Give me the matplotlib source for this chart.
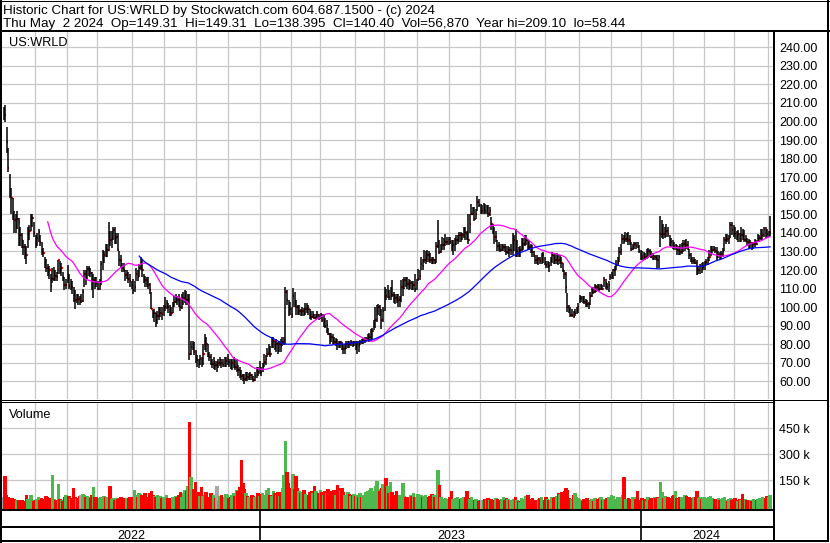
import numpy as np
import pandas as pd
import matplotlib
matplotlib.use('Agg')
import matplotlib.pyplot as plt

W, H = 830, 543
plt.rcParams['font.family'] = ['Liberation Sans', 'DejaVu Sans']

# daily bars, May 2 2022 .. May 2 2024
closes = [
    206, 203.4, 188.8, 175, 160, 158.8, 150, 146.8, 143, 147.7,
    146, 138.7, 136, 132.4, 129.2, 128, 139.6, 141, 147.7, 148,
    140, 133.3, 137, 140.5, 135, 130.6, 129, 125.2, 121, 120.7,
    119.8, 111.2, 115.3, 118, 117, 116, 125.2, 119.8, 121, 116,
    111.8, 112, 116.3, 111.2, 112, 110.9, 106.4, 104, 106, 104.6,
    103.3, 103.3, 108, 118, 116, 120.7, 121.2, 118.4, 114, 114.5,
    113.6, 113, 110, 112, 123.4, 125, 128, 127.4, 131, 140,
    136, 137, 141.4, 136.9, 138, 131, 125.2, 125, 121, 120,
    117.2, 118, 115, 114, 112, 109, 111, 118, 116, 121,
    124, 120, 116.3, 114.5, 113, 111.8, 109, 99.2, 96.5, 97,
    93, 95, 96.5, 97, 96.5, 99, 100.1, 102, 100, 98.3,
    97, 101, 102.8, 105.5, 104, 103.7, 100, 102, 105, 106,
    104, 105, 75, 78.5, 80, 76, 72, 71.4, 70, 72,
    70, 75, 82, 80, 75, 73, 70.5, 69.6, 71, 68.7,
    68.7, 70, 71.4, 70, 69, 70, 71, 72.2, 70.5, 68.7,
    70, 70.5, 67.8, 69, 66, 64.2, 63, 62, 61.5, 63,
    62.4, 63, 63.5, 62, 60.6, 63, 66, 65, 66, 65.1,
    68, 70.5, 72, 75, 77, 75, 80.3, 82, 79.4, 80,
    78, 80, 79, 81.2, 82, 108.2, 103.7, 100, 99.2, 95.6,
    105.8, 103, 100.1, 97, 98, 97.4, 98, 97, 99, 100.1,
    99, 96, 94.7, 95, 94, 95, 96, 94.7, 95, 92.9,
    93, 90, 90.2, 85.7, 84, 83.9, 83, 81.2, 82, 80.3,
    80, 81, 79, 77.6, 78, 80, 81, 80.3, 81, 80,
    81, 79, 80.3, 79, 81.2, 81, 82, 82.5, 83, 83.9,
    84, 85.7, 87, 91, 92.9, 98, 100.1, 98.3, 92.9, 98,
    109.1, 106, 108, 105.5, 107, 106.4, 105.5, 105, 104, 103.7,
    104, 110.9, 112, 114.5, 114, 112.7, 112, 113, 110.9, 112,
    110, 113, 115.3, 117, 123.4, 122, 125.2, 126, 128, 127.4,
    125.2, 124, 125.2, 124, 133, 135.1, 129.7, 131, 133.3, 134,
    135, 135.1, 136, 135, 133, 133.3, 134, 136, 137, 138.7,
    138, 138.7, 141.4, 140, 137.8, 136, 145, 150.4, 152, 147.7,
    150, 156.7, 155, 152, 152, 153, 152, 153, 150.4, 152,
    145, 140.5, 137.8, 138, 133, 132.4, 130.6, 132, 132.4, 130,
    129.7, 131, 130.6, 131, 134, 136, 128, 130, 129.7, 131,
    134, 134.2, 135.1, 136, 133.3, 132.4, 131, 129.7, 128, 125.2,
    125, 126, 125, 126, 128, 124, 122.5, 123, 122, 125,
    128, 126, 125.2, 127, 125.2, 126, 124, 120.2, 118, 110.9,
    100, 98.3, 95.6, 96, 95, 97, 98.3, 100, 104.6, 105,
    104.6, 103, 102, 101.9, 101.5, 106, 109.1, 108, 110.9, 111,
    110.9, 110, 111.8, 110, 114.5, 113, 110.9, 112, 116.3, 117,
    119.8, 120, 122.5, 124, 129.7, 131, 136.9, 136, 136.5, 137.5,
    136, 135.5, 131.5, 133, 134.2, 133, 132.4, 130, 128, 127,
    128, 127.2, 129.7, 130, 128, 127, 126.7, 127, 126.5, 125.2,
    127, 139.6, 141, 139.6, 140, 141, 139.6, 136, 135.1, 134,
    132.4, 133, 130.6, 131, 129.7, 132, 134, 134.2, 133.3, 132,
    128, 126.1, 125, 125.2, 124, 118, 120, 122, 121, 121.6,
    123, 124.3, 124.8, 127, 130.6, 131, 131.5, 130, 128, 128.3,
    127.8, 128.5, 130, 136, 137.8, 136.9, 137.5, 144.1, 141.4, 140,
    139.6, 138, 139.6, 138, 139, 138.5, 136, 136.5, 135.1, 134,
    134.3, 132.4, 134, 135, 134.2, 136.9, 137.2, 138.7, 138.9, 142.3,
    141, 139.6, 140, 140.4,
]

highs = [
    208, 209.1, 197, 186, 171.6, 164, 159, 152, 150, 152,
    148, 143, 140, 136, 134, 133, 143, 144, 150, 150.4,
    146, 139, 140, 142, 139, 135, 132, 127, 126, 123,
    122, 118, 121, 121.5, 120, 119, 125.5, 125, 124, 119,
    116, 115, 122.5, 118, 115, 114, 111, 109, 107, 107,
    106, 107, 110, 120, 120, 122, 122, 121, 119, 118,
    116, 116, 114, 115, 125, 131, 130, 134, 134, 145.9,
    141, 141, 143, 143, 140, 140, 130, 128, 124, 124,
    120, 120, 119, 118, 114, 115, 114, 121, 120, 123,
    127, 126, 118, 117, 116, 116, 113, 108, 98.5, 99,
    97, 98, 100, 100, 100, 101, 105.5, 104, 102, 101,
    100, 103, 106, 107, 106, 107, 105, 107, 108, 109,
    108.6, 107, 107, 82, 82, 81, 77, 74, 72, 74,
    73, 80, 85.7, 84, 80, 76, 75, 72, 73, 71,
    71, 72, 73, 72, 72, 73, 73, 75, 72, 72,
    72, 73, 72, 72, 69, 68, 66, 64, 64, 65,
    65, 64.5, 65, 64, 63, 65, 67.5, 68, 71, 68,
    70, 74.7, 74, 78, 80, 79, 84, 84, 82, 83,
    81, 82, 83, 84, 84, 111, 109, 104, 103, 100,
    110.5, 108, 104, 101, 101, 99, 100, 99.5, 102, 102,
    101, 99, 98, 98, 96.5, 96.5, 98, 96.5, 97, 96.5,
    96.5, 94, 93, 89, 86, 86, 85.7, 84, 83.5, 83,
    82, 82, 81, 80, 80, 82, 82, 82, 82.5, 82,
    82, 82, 82, 82, 82.5, 83, 83.5, 84, 84, 85.7,
    86, 88, 89, 93, 100, 101, 101.9, 101, 99, 100,
    110.9, 110, 112, 109, 111, 114.5, 108, 107, 107, 107,
    106, 114.5, 115, 116.3, 116, 116, 115, 114.5, 114, 114,
    118, 115, 120.7, 120, 127, 126, 130.6, 130, 130.6, 130,
    129, 127, 127, 126, 135, 147.1, 136, 134, 137.8, 137,
    139.6, 138, 138, 137.8, 136, 136, 137, 138.7, 139, 140.5,
    140.5, 140, 143.2, 143, 141, 150, 150.4, 155.8, 154, 154,
    153, 160, 158, 155.8, 155, 156, 155.8, 155, 154.9, 154,
    148.6, 145, 143, 141, 136, 135, 134, 134, 134, 134,
    133, 133, 132.4, 134, 140, 139, 142.3, 136, 132.4, 133,
    137, 137, 138.7, 138.7, 136, 136, 134, 133.3, 130, 128,
    128, 127, 127, 129, 129.7, 127, 125, 125, 124.3, 127,
    129.7, 128, 128.8, 129, 128, 128, 127, 124, 120, 119,
    107.4, 101, 100, 99, 98, 99, 100, 102, 106.4, 106,
    106, 106, 104.6, 104, 103, 108, 110.9, 111, 112.7, 112,
    112.7, 112.7, 112.7, 112, 116.3, 115, 113, 114, 118, 119,
    120.7, 122, 125.2, 127, 132.4, 134, 139.6, 138.7, 140.5, 140,
    140.5, 139, 135, 134, 135.1, 135, 135, 133.3, 130.6, 130,
    129.7, 129, 131.5, 132, 131.5, 130, 129, 128, 128, 127.9,
    128, 148.9, 147, 145, 143, 145, 143, 139, 137, 136,
    135, 134, 133.3, 133, 134, 134.5, 136, 136, 136.6, 135.5,
    131.5, 129, 127, 127, 126, 125.2, 122, 123.4, 124, 124.3,
    125, 126, 127, 130.6, 133, 133, 133, 132.5, 132.4, 130,
    129.7, 130, 132, 137.8, 139.6, 139.6, 139, 145.9, 146, 144,
    143.2, 141, 141.4, 140, 143.2, 142, 141.4, 139, 137, 136.9,
    136, 135, 135.1, 136.9, 136, 139.6, 139, 142.3, 142, 143.2,
    143, 142, 141, 149.31,
]

lows = [
    201, 199.6, 183, 173, 159, 150, 147, 140, 140, 142,
    133, 133, 132, 128, 126, 123.5, 132, 136, 141, 143,
    138, 132, 133, 135, 133, 128, 127, 121, 119, 117,
    115, 108, 113, 114, 114, 114, 118, 118, 117, 114,
    109, 110, 113, 110, 109, 107, 103, 99.2, 102, 101,
    101, 102, 103, 111, 112, 115, 117, 116, 109, 105,
    110, 111, 109, 109, 112, 120, 124, 127, 127, 130,
    133, 132, 136, 134, 134, 130, 122, 121, 119, 119,
    114, 115, 113, 111, 110, 107, 108, 114, 114, 116,
    120, 116, 113, 111, 111, 110, 107, 99, 94, 92,
    89.3, 91, 93, 94.5, 93, 95, 98, 99, 97, 95,
    95, 97, 100, 102, 101, 100, 98, 99, 101, 102,
    101, 101, 71.4, 74, 77, 74, 70, 68, 67, 69,
    68, 69, 77, 76, 73, 71, 69, 67, 66.7, 66,
    65.1, 67, 68.5, 67, 68, 67.5, 68, 69, 68, 66.5,
    66, 67, 66, 65, 63, 62, 60.6, 60, 58.44, 60,
    60, 61, 61, 60.5, 59.5, 60, 62, 63, 64, 63,
    65, 68, 69, 73, 74, 73, 78, 78, 77, 76,
    75, 76, 75.6, 79, 79.5, 80, 101, 95, 96, 94,
    100, 100, 96, 95.6, 96, 95, 95, 95, 96, 97,
    96, 93.5, 93, 94, 93.5, 93.5, 94, 93, 93.5, 92,
    89.3, 89, 86, 85, 80.3, 81, 80.3, 80, 79, 77,
    78, 78, 77, 75, 75, 77.6, 78, 78, 79, 78.5,
    79, 77, 75, 76, 79.5, 80, 80, 80.5, 81, 82,
    81, 82, 83, 87.5, 89, 92, 96, 95, 88.4, 92,
    98, 104, 105, 104, 104, 105.5, 102, 101.9, 102, 100.1,
    100, 103, 106, 110, 111, 110, 109, 110, 109, 109,
    108, 109, 114, 114.5, 120, 120, 124, 123.4, 124.5, 124.5,
    124, 123.5, 123.4, 123.5, 124, 132, 128.8, 129, 130.6, 131,
    133, 133.3, 133.5, 134, 130, 128, 130, 133.3, 134, 135,
    135.1, 136, 137, 136, 136, 134.2, 140, 149.5, 149.5, 146.5,
    147.7, 152, 154, 150.4, 150, 150.4, 150.4, 150, 148.6, 149,
    141.4, 139.6, 134.2, 135, 130, 130, 129.7, 130, 130, 129.7,
    128, 128.5, 127, 128, 128, 130, 127, 127, 127, 127,
    130, 130.6, 133, 133.3, 131, 130.6, 129, 127, 127, 123.4,
    123.4, 122.5, 123, 123.4, 124, 122.5, 121, 121, 119, 122,
    124, 123.4, 123.4, 123.4, 122.5, 123, 121, 119, 115, 107.4,
    97.4, 97, 94.7, 94.7, 94, 95, 96.5, 97, 102, 103,
    102, 101.9, 100, 100, 99.2, 101, 105.5, 107, 107.4, 108,
    109.1, 108.5, 109.1, 109, 111, 110, 109.1, 108, 114.5, 115,
    115.3, 117, 119.8, 122, 124.3, 128, 134.2, 134.2, 135.1, 135,
    133.3, 133.3, 130.5, 131, 131.5, 131.5, 132, 129, 125.2, 125.2,
    125.2, 125.2, 126, 126.5, 127, 126.5, 125.5, 125.2, 125.2, 120.7,
    121, 132.4, 137, 136.9, 137, 138, 137.8, 133, 132.5, 131.5,
    130.6, 130.6, 128, 128, 128, 128.5, 129.7, 130, 131.5, 131,
    126.1, 124.3, 123.4, 123.4, 123, 117.2, 118, 118, 118.5, 120,
    120, 122.5, 122.5, 125, 127.5, 129, 130.5, 129, 125.2, 126.5,
    125.2, 126, 127, 130, 134, 135.1, 134, 137, 139, 138,
    136.9, 136, 135, 135.1, 135.1, 136, 135.1, 135.1, 133, 131.5,
    132, 130.6, 131.5, 132.5, 133.3, 135, 135.1, 136, 136, 137.8,
    137, 137, 138, 138.395,
]

# volume in thousands of shares
volumes = [
    48, 171, 60, 45, 40, 38, 42, 35, 30, 32,
    28, 25, 30, 22, 20, 58, 35, 30, 58, 28,
    25, 30, 35, 45, 30, 40, 25, 35, 55, 45,
    40, 40, 172, 35, 30, 28, 120, 35, 30, 25,
    45, 60, 30, 55, 35, 40, 102, 50, 38, 40,
    55, 60, 65, 60, 50, 55, 45, 40, 60, 105,
    50, 45, 40, 42, 48, 40, 55, 45, 45, 40,
    110, 38, 40, 30, 42, 35, 40, 45, 38, 40,
    35, 40, 42, 50, 45, 40, 90, 60, 50, 70,
    65, 60, 55, 72, 45, 50, 70, 80, 60, 55,
    50, 62, 45, 55, 40, 50, 45, 60, 40, 42,
    38, 45, 50, 55, 45, 60, 75, 50, 70, 88,
    80, 110, 482, 163, 70, 95, 134, 65, 75, 55,
    103, 55, 60, 75, 45, 50, 70, 55, 60, 40,
    113, 25, 55, 60, 45, 50, 65, 58, 40, 45,
    60, 70, 55, 90, 85, 105, 263, 130, 95, 70,
    55, 45, 40, 60, 55, 45, 50, 70, 55, 65,
    70, 60, 55, 90, 100, 60, 55, 80, 70, 60,
    78, 55, 75, 100, 174, 373, 190, 130, 90, 100,
    178, 95, 170, 100, 85, 70, 75, 90, 65, 55,
    60, 75, 80, 70, 113, 85, 60, 70, 90, 75,
    60, 85, 70, 95, 80, 75, 85, 90, 60, 115,
    100, 80, 100, 75, 60, 50, 75, 65, 55, 60,
    65, 55, 60, 45, 70, 50, 60, 55, 75, 85,
    90, 100, 70, 85, 110, 138, 95, 80, 100, 120,
    90, 160, 110, 70, 132, 75, 60, 55, 85, 50,
    60, 45, 128, 55, 50, 40, 45, 60, 55, 70,
    50, 45, 65, 40, 60, 45, 55, 60, 40, 45,
    55, 65, 60, 50, 60, 204, 117, 45, 35, 30,
    40, 35, 30, 45, 80, 35, 30, 40, 45, 30,
    35, 40, 45, 50, 85, 40, 35, 45, 30, 28,
    35, 30, 25, 28, 32, 30, 35, 28, 40, 30,
    35, 25, 30, 40, 35, 30, 28, 35, 45, 30,
    40, 35, 30, 28, 20, 35, 50, 30, 25, 20,
    40, 35, 30, 55, 62, 25, 35, 40, 30, 25,
    30, 35, 40, 50, 25, 30, 45, 35, 28, 30,
    45, 40, 50, 55, 70, 65, 75, 60, 80, 100,
    90, 40, 30, 35, 60, 70, 45, 40, 35, 30,
    25, 35, 30, 40, 28, 30, 35, 25, 40, 30,
    35, 40, 45, 30, 35, 30, 40, 45, 50, 60,
    55, 35, 30, 50, 40, 45, 60, 165, 35, 30,
    40, 35, 30, 45, 50, 35, 80, 30, 25, 40,
    30, 35, 25, 45, 30, 40, 35, 50, 40, 45,
    40, 132, 75, 40, 55, 45, 50, 40, 35, 55,
    60, 85, 40, 35, 50, 45, 40, 62, 55, 40,
    45, 35, 40, 50, 45, 85, 40, 50, 35, 45,
    50, 40, 35, 45, 55, 40, 30, 35, 25, 40,
    30, 35, 40, 45, 30, 25, 35, 40, 30, 35,
    40, 30, 25, 35, 30, 66, 25, 35, 30, 25,
    30, 25, 35, 30, 28, 35, 40, 30, 45, 35,
    40, 55, 50, 57,
]

holidays = ['2022-05-30', '2022-06-20', '2022-07-04', '2022-09-05', '2022-11-24',
            '2022-12-26', '2023-01-02', '2023-01-16', '2023-02-20', '2023-04-07',
            '2023-05-29', '2023-06-19', '2023-07-04', '2023-09-04', '2023-11-23',
            '2023-12-25', '2024-01-01', '2024-01-15', '2024-02-19', '2024-03-29']

price_ticks = list(range(60, 250, 10))
vol_ticks = [150, 300, 450]
symbol = 'US:WRLD'
header1 = 'Historic Chart for US:WRLD by Stockwatch.com 604.687.1500 - (c) 2024'
header2 = ('Thu May  2 2024  Op=149.31  Hi=149.31  Lo=138.395  Cl=140.40  '
           'Vol=56,870  Year hi=209.10  lo=58.44')

GRID = '#c8c8c8'
GREEN = '#4db84d'

dates = pd.bdate_range('2022-05-02', '2024-05-02', freq='C', holidays=holidays)
dates = dates[-len(closes):]
x = np.arange(len(closes))
xlim = (-1.0, len(closes) + 0.9)

months = dates.to_period('M')
month_starts = np.flatnonzero(months[1:] != months[:-1]) + 1
years = dates.year
year_starts = np.flatnonzero(years[1:] != years[:-1]) + 1

fig = plt.figure(figsize=(W / 100, H / 100), dpi=100)


def box(x0, y0, x1, y1):
    return fig.add_axes([x0 / W, 1 - y1 / H, (x1 - x0) / W, (y1 - y0) / H])


def bare(ax):
    ax.set_xticks([])
    ax.set_yticks([])
    for s in ax.spines.values():
        s.set_visible(False)


# price panel
ax = box(2, 31.7, 773, 399)
bare(ax)
ax.set_xlim(*xlim)
ax.set_ylim(50.5, 248.4)
for p in price_ticks:
    ax.axhline(p, color=GRID, lw=0.9, zorder=0)
    ax.text(1.0078, p, '%.2f' % p, transform=ax.get_yaxis_transform(),
            ha='left', va='center_baseline', fontsize=9, clip_on=False)
for m in month_starts:
    ax.axvline(m - 0.5, color=GRID, lw=0.9, zorder=0)
ax.hlines(closes, x, x + 0.9, color='red', lw=1.6, zorder=2)
ax.vlines(x, lows, highs, color='black', lw=1.1, zorder=3)
ma30 = pd.Series(closes).rolling(30).mean()
ma90 = pd.Series(closes).rolling(90).mean()
ax.plot(x, ma30, color='#ff00ff', lw=0.9, zorder=4)
ax.plot(x, ma90, color='#0000ff', lw=0.9, zorder=4)

# volume panel
vax = box(2, 402, 773, 509)
bare(vax)
vax.set_xlim(*xlim)
vlow = -15.6
vax.set_ylim(vlow, 601.7)
for v in vol_ticks:
    vax.axhline(v, color=GRID, lw=0.9, zorder=0)
    vax.text(1.0078, v, '%d k' % v, transform=vax.get_yaxis_transform(),
             ha='left', va='center_baseline', fontsize=9, clip_on=False)
for m in month_starts:
    vax.axvline(m - 0.5, color=GRID, lw=0.9, zorder=0)
chg = np.diff(np.array(closes), prepend=closes[0])
colors = np.where(chg > 0, GREEN, np.where(chg < 0, '#ff0000', '#a8a8a8'))
vol = np.array(volumes, dtype=float)
vax.bar(x, vol - vlow, bottom=vlow, width=1.0, color=colors, edgecolor=colors,
        linewidth=0.3, antialiased=False, zorder=2)

# date rows
dax = box(2, 509, 773, 541)
bare(dax)
dax.set_xlim(*xlim)
dax.set_ylim(0, 1)
for ys in year_starts:
    dax.axvline(ys - 0.5, color='black', lw=1.2)
for yr in sorted(set(years)):
    idx = np.flatnonzero(years == yr)
    left = max(idx[0] - 0.5, xlim[0])
    right = min(idx[-1] + 0.5, xlim[1])
    dax.text((left + right) / 2, 0.05, str(yr), ha='center', va='baseline', fontsize=9)

# frame lines, in pixel units
ov = fig.add_axes([0, 0, 1, 1], zorder=10)
ov.set_xlim(0, W)
ov.set_ylim(H, 0)
ov.axis('off')
ov.patch.set_visible(False)
k = 0.72  # points per pixel
segs = [
    ((1, 1), (0, 543), 2),
    ((0, 830), (0.5, 0.5), 1),
    ((0, 830), (30.5, 30.5), 2),
    ((827.7, 827.7), (0, 542), 2),
    ((773.7, 773.7), (30.5, 542), 2),
    ((0, 828), (399.5, 399.5), 1),
    ((0, 773), (402, 402), 1),
    ((0, 773), (509.5, 509.5), 2),
    ((0, 773), (526.5, 526.5), 2),
    ((0, 828), (541, 541), 2),
]
for xs, ys, w in segs:
    ov.plot(xs, ys, color='black', lw=w * k, solid_capstyle='butt')

fig.text(3 / W, 1 - 13.8 / H, header1, fontsize=9.6, va='baseline')
fig.text(3 / W, 1 - 26.6 / H, header2, fontsize=9.6, va='baseline')
fig.text(9 / W, 1 - 45.5 / H, symbol, fontsize=9.2, va='baseline')
fig.text(9 / W, 1 - 417.5 / H, 'Volume', fontsize=9.2, va='baseline')

fig.savefig('out.png', dpi=100, facecolor='white')
